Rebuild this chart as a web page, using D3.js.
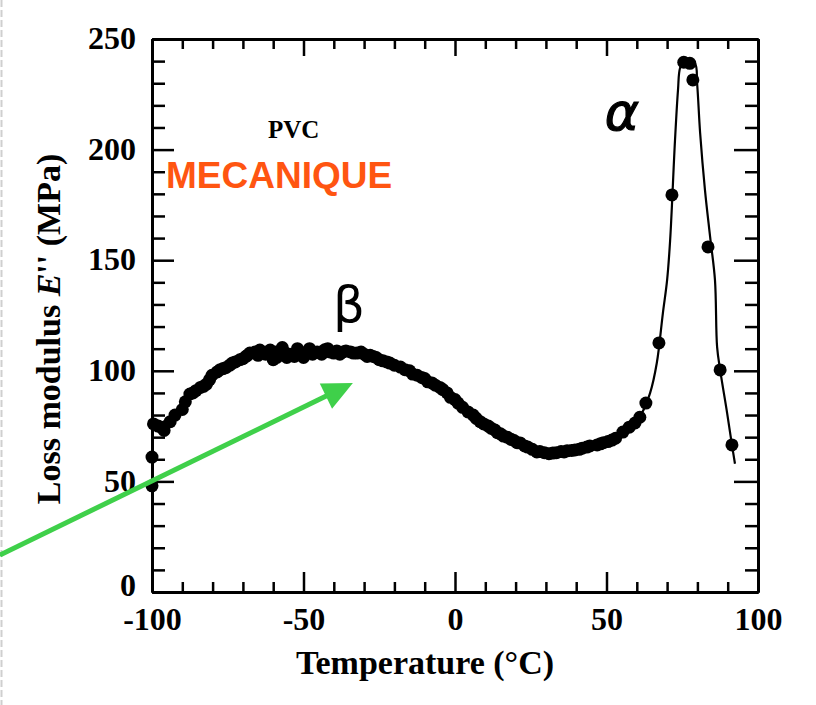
<!DOCTYPE html>
<html>
<head>
<meta charset="utf-8">
<script src="https://cdn.jsdelivr.net/npm/d3@7/dist/d3.min.js"></script>
<style>
  html, body { margin: 0; padding: 0; background: #fff; }
  svg { display: block; }
</style>
</head>
<body>
<svg id="chart" width="816" height="705"></svg>
<script>
// ---- Data ----
const pointTemps = [-100, -100, -99.5, -98, -97, -96, -94, -92.4, -90, -89, -87.5, -86.5, -85.5, -84, -83, -82, -81, -80.2, -78.5, -77.5, -76.5, -75.5, -74.3, -73.5, -72.5, -71, -70, -69, -68.5, -67.7, -66, -65, -64.4, -63.5, -62.5, -61, -60, -59, -58.8, -57, -56, -55.5, -54.5, -53, -52, -51, -50, -48, -47, -45.5, -44, -43, -42, -41.3, -40, -39, -38, -37, -36, -34.5, -33.5, -32.3, -31, -30, -29, -28, -27, -26, -25, -23.8, -22.5, -21.5, -20, -18, -16.5, -15, -14, -12.5, -11, -10, -9, -7.6, -6.5, -5, -4, -2.6, -1.5, 0, 1, 2.5, 4.3, 6, 7, 8.3, 9.5, 11, 12, 13.2, 14, 15, 16, 17.2, 18.5, 19.5, 20.5, 21.5, 23, 24, 25.5, 27, 28, 29.5, 31, 32.3, 33.5, 35, 36, 37, 38.5, 39.6, 41, 42, 43.5, 44.5, 46.9, 48, 49, 50.5, 51.8, 53, 55.4, 57.5, 59.4, 61, 63, 67.3, 71.6, 75.5, 77.5, 78.5, 83.5, 87.5, 91.4];
const pointValues = [61, 48, 76, 75, 74.5, 73, 77, 80, 82.5, 86, 89.5, 90, 91, 92.5, 93, 94, 96, 98, 99.5, 100.5, 101, 101.5, 102.6, 103.5, 104, 105, 105.5, 106.5, 107, 108, 108.5, 107, 109.4, 108.5, 107.5, 109.4, 105, 108.5, 106, 110.5, 108, 106, 107.5, 106.5, 110, 108.5, 106, 110, 107.5, 108.5, 107.5, 109.5, 110, 108.5, 108, 109, 107.5, 108.5, 109, 108.5, 108, 108, 108.5, 107.5, 106.5, 107, 106.5, 106, 105, 104.5, 104, 103.5, 102.5, 101.7, 100.5, 100, 98.5, 98, 97, 96.5, 95, 94.5, 93.5, 92.5, 91.5, 90, 88, 87, 85.4, 83.5, 81.4, 80, 78.5, 77, 76, 75, 74, 73.2, 72, 71.5, 70.5, 70, 69, 68.5, 67.5, 67.4, 66, 65.5, 64.5, 63.3, 63.5, 63, 62.5, 62.8, 63, 63.5, 63.3, 63.8, 64, 64.2, 64.5, 65, 65.5, 66, 66.5, 67, 67.5, 68, 68.7, 69.5, 72.3, 74.5, 76.4, 79, 85.4, 112.6, 179.5, 239.5, 239, 231.5, 156, 100.4, 66.5];

const curveTemps = [-99, -95, -90, -85, -80, -75, -70, -65, -60, -50, -40, -30, -25, -20, -15, -10, -5, 0, 5, 10, 15, 20, 25, 30, 35, 40, 45, 50, 55, 57.8, 61.7, 64.4, 66.6, 68.6, 70, 71, 72.6, 73.6, 74.3, 76, 79.2, 79.9, 80.9, 82.5, 84.2, 85.8, 86.5, 87.5, 89.8, 91.4, 92.4];
const curveValues = [75, 78, 85, 91, 97, 102, 105.5, 107.5, 108.5, 109, 108.5, 107, 105, 102.5, 99.5, 96, 92, 87, 81.5, 76, 71.5, 67.5, 64.5, 63, 63, 64.2, 66, 68.5, 72, 74.6, 81, 90, 103.5, 126, 141, 159, 204, 227, 237, 241, 239, 230, 207.5, 181.7, 160.5, 141, 110.8, 100.4, 81, 66.5, 58];

const xTickLabels = ["-100", "-50", "0", "50", "100"];
const yTickLabels = ["0", "50", "100", "150", "200", "250"];

// annotation arrow in data coordinates: [T, value] start and tip
const arrowStart = [-150.2, 16.7];
const arrowTip = [-33.7, 94.5];

// ---- Chart ----
const svg = d3.select("#chart");
const x = d3.scaleLinear().domain([-100, 100]).range([152, 758]);
const y = d3.scaleLinear().domain([0, 250]).range([592, 39]);

const serif = "'Liberation Serif', 'Times New Roman', serif";

// left page edge dashed line
svg.append("line").attr("x1", 1.5).attr("x2", 1.5).attr("y1", 0).attr("y2", 705)
  .attr("stroke", "#cfcfcf").attr("stroke-width", 2).attr("stroke-dasharray", "7,3");

const xMinor = d3.range(-90, 100, 10).filter(v => v % 50 !== 0);
const xMajor = xTickLabels.map(Number);
const yMinor = d3.range(10, 250, 10).filter(v => v % 50 !== 0);
const yMajor = yTickLabels.map(Number);

function styleAxis(g) {
  g.selectAll("path.domain").attr("stroke", "#000").attr("stroke-width", 3);
  g.selectAll(".tick line").attr("stroke", "#000").attr("stroke-width", 2.5);
  g.selectAll("text").attr("fill", "#000").style("font-family", serif)
    .style("font-weight", "bold").style("font-size", "32px");
}

// bottom
svg.append("g").attr("transform", `translate(0,${y(0)})`)
  .call(d3.axisBottom(x).tickValues(xMinor).tickSize(-10).tickSizeOuter(0).tickFormat(""))
  .call(styleAxis);
const gb = svg.append("g").attr("transform", `translate(0,${y(0)})`)
  .call(d3.axisBottom(x).tickValues(xMajor).tickSize(-20).tickSizeOuter(0).tickPadding(0).tickFormat((d, i) => xTickLabels[i]))
  .call(styleAxis);
gb.selectAll("text").attr("y", 38).attr("dy", 0);
// top
svg.append("g").attr("transform", `translate(0,${y(250)})`)
  .call(d3.axisTop(x).tickValues(xMinor).tickSize(-10).tickSizeOuter(0).tickFormat(""))
  .call(styleAxis);
svg.append("g").attr("transform", `translate(0,${y(250)})`)
  .call(d3.axisTop(x).tickValues(xMajor).tickSize(-17).tickSizeOuter(0).tickFormat(""))
  .call(styleAxis);
// left
svg.append("g").attr("transform", `translate(${x(-100)},0)`)
  .call(d3.axisLeft(y).tickValues(yMinor).tickSize(-13).tickSizeOuter(0).tickFormat(""))
  .call(styleAxis);
const gl = svg.append("g").attr("transform", `translate(${x(-100)},0)`)
  .call(d3.axisLeft(y).tickValues(yMajor).tickSize(-22).tickSizeOuter(0).tickFormat((d, i) => yTickLabels[i]))
  .call(styleAxis);
gl.selectAll("text").attr("x", -16).attr("dy", d => d === 0 ? "0.12em" : "0.3em").attr("text-anchor", "end");
// right
svg.append("g").attr("transform", `translate(${x(100)},0)`)
  .call(d3.axisRight(y).tickValues(yMinor).tickSize(-13).tickSizeOuter(0).tickFormat(""))
  .call(styleAxis);
svg.append("g").attr("transform", `translate(${x(100)},0)`)
  .call(d3.axisRight(y).tickValues(yMajor).tickSize(-24).tickSizeOuter(0).tickFormat(""))
  .call(styleAxis);

// axis titles
svg.append("text").attr("x", 425).attr("y", 674).attr("text-anchor", "middle")
  .style("font-family", serif).style("font-weight", "bold").style("font-size", "34px").attr("fill", "#000")
  .text("Temperature (°C)");
const yl = svg.append("text").attr("transform", "translate(60,329) rotate(-90)").attr("text-anchor", "middle")
  .style("font-family", serif).style("font-weight", "bold").style("font-size", "34px").attr("fill", "#000");
yl.append("tspan").text("Loss modulus ");
yl.append("tspan").style("font-style", "italic").text("E");
yl.append("tspan").text("'' (MPa)");

// fitted curve
const line = d3.line().x(d => x(d[0])).y(d => y(d[1])).curve(d3.curveCatmullRom.alpha(0.5));
svg.append("path").datum(curveTemps.map((t, i) => [t, curveValues[i]]))
  .attr("d", line).attr("fill", "none").attr("stroke", "#000").attr("stroke-width", 2.2);

// data points
svg.append("g").selectAll("circle").data(pointTemps.map((t, i) => [t, pointValues[i]]))
  .join("circle").attr("cx", d => x(d[0])).attr("cy", d => y(d[1])).attr("r", 6.5).attr("fill", "#000");

// annotations
svg.append("text").attr("x", 268).attr("y", 138)
  .style("font-family", serif).style("font-weight", "bold").style("font-size", "25px").attr("fill", "#000")
  .text("PVC");
svg.append("text").attr("x", 166).attr("y", 188)
  .style("font-family", "'Liberation Sans', Arial, sans-serif").style("font-weight", "bold").style("font-size", "37px")
  .attr("fill", "#ff5511").text("MECANIQUE");
svg.append("text").attr("x", 349).attr("y", 322).attr("text-anchor", "middle")
  .style("font-family", "'DejaVu Sans', sans-serif").style("font-size", "50px").attr("fill", "#000")
  .text("β");
svg.append("text").attr("x", 622).attr("y", 130).attr("text-anchor", "middle")
  .style("font-family", "'DejaVu Sans', sans-serif").style("font-style", "italic").style("font-size", "52px").attr("fill", "#000")
  .attr("stroke", "#000").attr("stroke-width", 1.2)
  .text("α");

// green arrow
const p0 = [x(arrowStart[0]), y(arrowStart[1])];
const p1 = [x(arrowTip[0]), y(arrowTip[1])];
const dx = p1[0] - p0[0], dy = p1[1] - p0[1], len = Math.hypot(dx, dy);
const ux = dx / len, uy = dy / len;
const headL = 30, headW = 14;
const base = [p1[0] - ux * headL, p1[1] - uy * headL];
const green = "#3fd04a";
svg.append("line").attr("x1", p0[0]).attr("y1", p0[1]).attr("x2", base[0] + ux * 2).attr("y2", base[1] + uy * 2)
  .attr("stroke", green).attr("stroke-width", 5);
svg.append("path").attr("d", d3.line()([
  p1,
  [base[0] - uy * headW, base[1] + ux * headW],
  [base[0] + uy * headW, base[1] - ux * headW]
]) + "Z").attr("fill", green);
</script>
</body>
</html>
